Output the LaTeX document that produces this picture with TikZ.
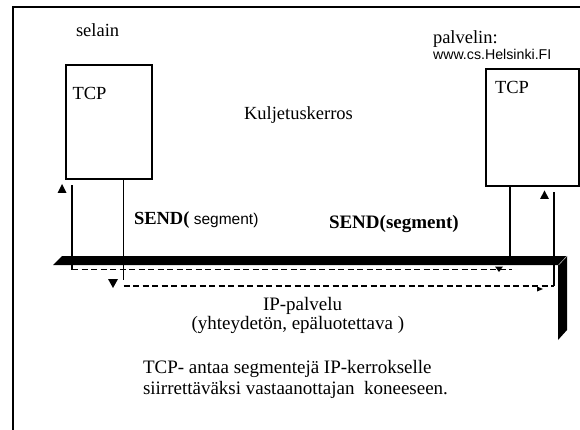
\documentclass[tikz,border=0pt]{standalone}
\usepackage{fontspec}
\setmainfont{Liberation Serif}
\newfontfamily\arialfam{Liberation Sans}
\begin{document}
\begin{tikzpicture}[x=1pt,y=-1pt,
  every node/.style={inner sep=0pt, outer sep=0pt},
  box/.style={draw, line width=1.3pt, inner sep=0pt, anchor=north west},
  lbl/.style={font=\fontsize{18.5}{22}\selectfont, anchor=base west},
  biglbl/.style={font=\fontsize{19}{23}\selectfont, anchor=base west},
  wire/.style={line width=1.2pt},
  dwire/.style={line width=1.2pt, dash pattern=on 6pt off 3.5pt},
  tipshape/.style={fill=black, draw=none}]
\clip (0,0) rectangle (580,430);
\fill[white] (0,0) rectangle (580,430);
\draw[line width=1.3pt] (13,7) rectangle (600,450);
% boxes
\node[box, minimum width=86pt, minimum height=114pt] (lbox) at (66,65) {};
\node[box, minimum width=93pt, minimum height=117pt] (rbox) at (486,69) {};
% labels
\node[lbl] (selain) at (76,37) {selain};
\node[lbl] (ltcp) at (72.5,99.5) {TCP};
\node[lbl] (kulj) at (244,119.5) {Kuljetuskerros};
\node[lbl] (palv) at (433,43.5) {palvelin:};
\node[anchor=base west, font=\arialfam\fontsize{14.2}{17}\selectfont] (www) at (433,60) {www.cs.Helsinki.FI};
\node[lbl] (rtcp) at (495,94) {TCP};
\node[lbl] (lsend) at (134,224) {\bfseries SEND(\arialfam\mdseries\fontsize{15.5}{18}\selectfont\ segment)};
\node[lbl, font=\bfseries\fontsize{19}{23}\selectfont] (rsend) at (329,229) {SEND(segment)};
\node[biglbl] (ip) at (263,310) {IP-palvelu};
\node[biglbl] (ipdesc) at (191.5,329) {(yhteydetön, epäluotettava )};
\node[biglbl] (bot1) at (143,373) {TCP- antaa segmentejä IP-kerrokselle};
\node[biglbl] (bot2) at (143,394) {siirrettäväksi vastaanottajan\ \ koneeseen.};
% connector coordinates
\coordinate (l1top) at (72,185);
\coordinate (l1bot) at (72,269.5);
\coordinate (l2top) at (123.5,179);
\coordinate (l2bot) at (123.5,280);
\coordinate (l2dash) at (123.5,286);
\coordinate (r1top) at (510,186);
\coordinate (r1bot) at (510,262);
\coordinate (d1end) at (512,269.5);
\coordinate (r2top) at (554,192);
\coordinate (r2bot) at (554,286);
% connectors
\draw[wire] (l1bot) -- (l1top);
\draw[wire] (l2top) -- (l2bot);
\draw[wire] (r1top) -- (r1bot);
\draw[wire] (r2bot) -- (r2top);
\draw[dwire] (l1bot) -- (d1end);
\draw[dwire] (l2dash) -- (r2bot);
% arrowheads
\fill[tipshape] (57.5,193) -- (62,184) -- (66.5,193) -- cycle;
\fill[tipshape] (108,279) -- (113,288) -- (118,279) -- cycle;
\fill[tipshape] (540,199) -- (544.5,190.5) -- (549,199) -- cycle;
\fill[tipshape] (495,266.5) -- (499,272) -- (503,266.5) -- cycle;
\fill[tipshape] (537,286.5) -- (543,289) -- (537,291.5) -- cycle;
% IP bar
\fill[black] (62,256) -- (567,256) -- (567,330) -- (558,340) -- (558,265) -- (53,265) -- cycle;
\draw[gray!60, line width=0.6pt] (567,256) -- (558.5,265);
\end{tikzpicture}
\end{document}
